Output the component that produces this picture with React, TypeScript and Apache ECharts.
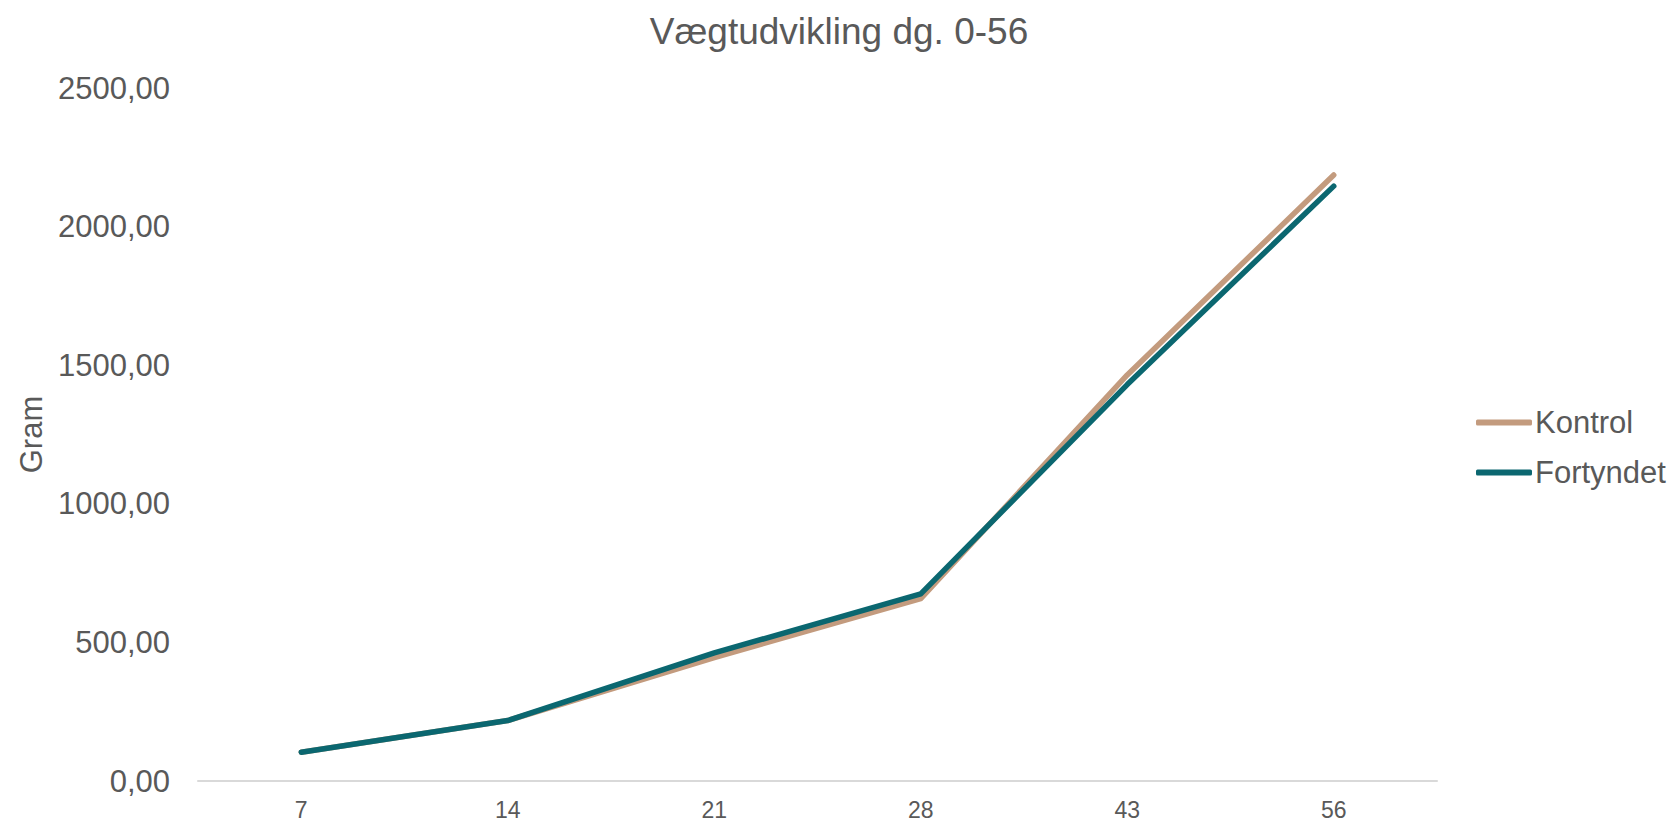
import React, { useEffect, useRef } from "react";
import * as echarts from "echarts";

const titleText = "Vægtudvikling dg. 0-56";
const yAxisName = "Gram";
const days = ["7", "14", "21", "28", "43", "56"];
const kontrol = [104, 218, 445, 658, 1465, 2186];
const fortyndet = [104, 218, 462, 675, 1430, 2146];
const seriesNames = ["Kontrol", "Fortyndet"];
const seriesColors = ["#C39B7E", "#0B6770"];

export default function App() {
  const ref = useRef<HTMLDivElement>(null);
  useEffect(() => {
    if (!ref.current) return;
    const chart = echarts.init(ref.current, undefined, { renderer: "svg" });
    const textColor = "#595959";
    const font = "'Liberation Sans', Arial, sans-serif";
    chart.setOption({
      animation: false,
      backgroundColor: "#ffffff",
      title: {
        text: titleText,
        left: "center",
        top: 8,
        textStyle: { color: textColor, fontSize: 37, fontWeight: "normal", fontFamily: font },
      },
      grid: { left: 198, right: 241, top: 88, bottom: 39, containLabel: false },
      legend: {
        orient: "vertical",
        left: 1471,
        top: 402,
        itemWidth: 56,
        itemHeight: 6,
        itemGap: 19,
        icon: "roundRect",
        data: seriesNames,
        textStyle: { color: textColor, fontSize: 31, fontFamily: font, padding: [0, 0, 0, -2] },
      },
      xAxis: {
        type: "category",
        data: days,
        boundaryGap: true,
        axisLine: { lineStyle: { color: "#D9D9D9", width: 2 } },
        axisTick: { show: false },
        axisLabel: { color: textColor, fontSize: 23, fontFamily: font, margin: 17 },
      },
      yAxis: {
        type: "value",
        min: 0,
        max: 2500,
        interval: 500,
        name: yAxisName,
        nameLocation: "middle",
        nameGap: 150,
        nameRotate: 90,
        nameTextStyle: { color: textColor, fontSize: 31, fontFamily: font },
        axisLine: { show: false },
        axisTick: { show: false },
        splitLine: { show: false },
        axisLabel: {
          color: textColor,
          fontSize: 31,
          fontFamily: font,
          margin: 28,
          formatter: (v: number) => v.toFixed(2).replace(".", ","),
        },
      },
      series: [
        {
          name: seriesNames[0],
          type: "line",
          data: kontrol,
          showSymbol: false,
          symbol: "none",
          color: seriesColors[0],
          lineStyle: { width: 5.5, color: seriesColors[0], cap: "round", join: "round" },
        },
        {
          name: seriesNames[1],
          type: "line",
          data: fortyndet,
          showSymbol: false,
          symbol: "none",
          color: seriesColors[1],
          lineStyle: { width: 5.5, color: seriesColors[1], cap: "round", join: "round" },
        },
      ],
    });
    return () => chart.dispose();
  }, []);
  return (
    <div
      ref={ref}
      style={{ position: "fixed", left: 0, top: 0, width: 1678, height: 821 }}
    />
  );
}
